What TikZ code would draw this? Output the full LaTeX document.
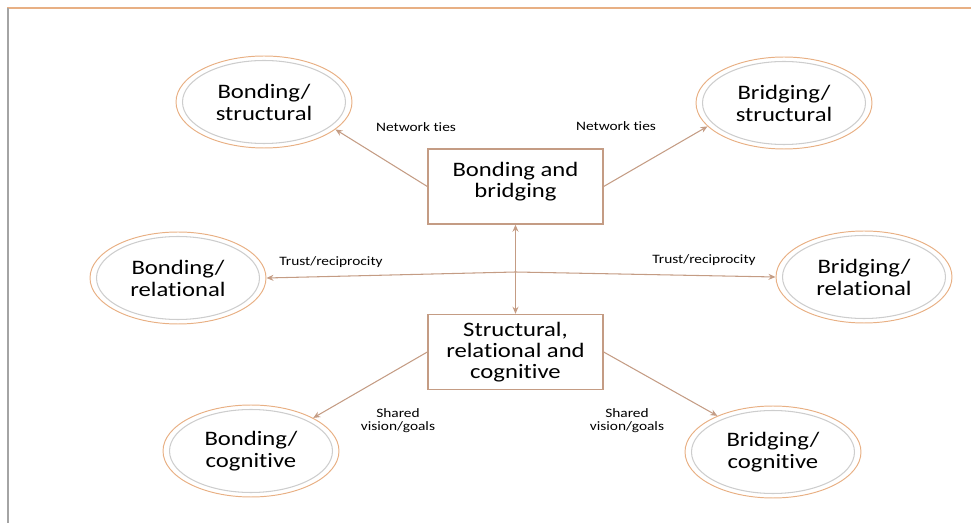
\documentclass[tikz,border=0pt]{standalone}
\usepackage{fontspec}
\setmainfont[FakeStretch=1.2,Ligatures=NoCommon,Contextuals=NoAlternate,RawFeature={-clig;-dlig}]{Carlito}
\usetikzlibrary{shapes.geometric,arrows.meta}

\definecolor{rimorange}{RGB}{232,176,132}
\definecolor{rimgray}{RGB}{205,205,205}
\definecolor{linkbrown}{RGB}{196,156,132}

\begin{document}
\begin{tikzpicture}[x=0.02cm,y=-0.02cm,
  >={Stealth[length=4pt,width=3.4pt]},
  bubble/.style={ellipse,draw=rimorange,line width=0.55pt,minimum width=3.52cm,
    minimum height=1.84cm,inner sep=0pt,align=center,
    font=\fontsize{11.7}{12.5}\selectfont},
  hubbox/.style={rectangle,draw=linkbrown,line width=0.8pt,minimum width=3.5cm,
    minimum height=1.5cm,align=center,font=\fontsize{11.7}{12}\selectfont},
  link/.style={draw=linkbrown,line width=0.6pt},
  tag/.style={font=\fontsize{7.3}{7.5}\selectfont,align=center,inner sep=0pt}]
\useasboundingbox (0,0) rectangle (971,523);

% frame
\draw[rimorange,line width=0.8pt] (7,8) -- (971,8);
\draw[rimgray!80!black,line width=0.8pt] (8,8) -- (8,523);

% the two boxes
\node[hubbox] (bb) at (515.5,186.5) {Bonding and\\bridging\\[-4pt]\mbox{}};
\node[hubbox] (src) at (515.5,352) {Structural,\\relational and\\cognitive};

% ellipses
\node[bubble] (bstr) at (264,102) {Bonding/\\structural};
\node[bubble] (brstr) at (784,103) {Bridging/\\structural};
\node[bubble] (brel) at (178,278) {Bonding/\\relational};
\node[bubble] (brrel) at (864,277) {Bridging/\\relational};
\node[bubble] (bcog) at (251,451) {Bonding/\\cognitive};
\node[bubble] (brcog) at (773,452) {Bridging/\\cognitive};

\foreach \n in {bstr,brstr,brel,brrel,bcog,brcog}
  \draw[rimgray,line width=0.6pt] (\n.center) ellipse [x radius=1.63cm, y radius=0.83cm];

% connectors
\coordinate (hub) at (515.5,272);
\draw[link,->] (bb.west) -- (bstr.-21);
\draw[link,->] (bb.east) -- (brstr.-163);
\draw[link,<->] (bb.south) -- (src.north);
\draw[link,->] (hub) -- (brel.east);
\draw[link,->] (hub) -- (brrel.west);
\draw[link,->] (src.west) -- (bcog.28);
\draw[link,->] (src.east) -- (brcog.147);

% labels
\node[tag] (nt1) at (416,127) {Network ties};
\node[tag] (nt2) at (616,126) {Network ties};
\node[tag] (tr1) at (331,262) {Trust/reciprocity};
\node[tag] (tr2) at (704,260) {Trust/reciprocity};
\node[tag] (sv1) at (398,421) {Shared\\vision/goals};
\node[tag] (sv2) at (627,421) {Shared\\vision/goals};
\end{tikzpicture}
\end{document}
